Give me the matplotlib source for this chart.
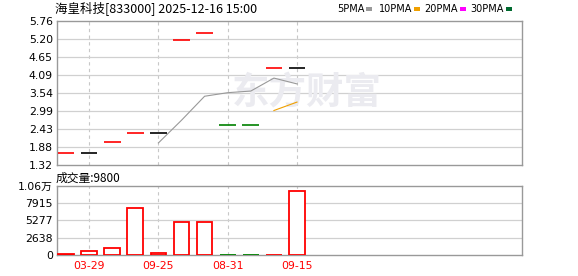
import numpy as np
import matplotlib
matplotlib.use("Agg")
import matplotlib.pyplot as plt
from matplotlib.patches import Rectangle

plt.rcParams['font.family'] = ['DejaVu Sans', 'Noto Sans CJK SC']

# ---- data ----
title = "海皇科技[833000] 2025-12-16 15:00"
closes = [1.69, 1.69, 2.02, 2.30, 2.30, 5.17, 5.39, 2.55, 2.55, 4.31, 4.31]
candle_colors = ['red', 'black', 'red', 'red', 'black', 'red', 'red', 'green', 'green', 'red', 'black']
volumes = [80, 600, 1070, 7140, 330, 5000, 5000, 40, 40, 40, 9800]
vol_colors = ['red', 'red', 'red', 'red', 'red', 'red', 'red', 'green', 'green', 'red', 'red']
ma5 = [np.nan, np.nan, np.nan, np.nan, 2.00, 2.70, 3.44, 3.55, 3.60, 4.00, 3.82]
ma10 = [np.nan] * 9 + [3.00, 3.26]
price_ticks = [1.32, 1.88, 2.43, 2.99, 3.54, 4.09, 4.65, 5.20, 5.76]
price_tick_labels = ["1.32", "1.88", "2.43", "2.99", "3.54", "4.09", "4.65", "5.20", "5.76"]
vol_ticks = [0, 2638, 5277, 7915, 10552]
vol_tick_labels = ["0", "2638", "5277", "7915", "1.06万"]
xtick_idx = [1, 4, 7, 10]
xtick_labels = ["03-29", "09-25", "08-31", "09-15"]
legend_names = ["5PMA", "10PMA", "20PMA", "30PMA"]
legend_colors = ["#999999", "#f0a000", "#ff00ff", "#006a2f"]
last_volume = 9800

cmap = {'red': '#ff0000', 'black': '#000000', 'green': '#008000'}

W, H = 578, 276
fig = plt.figure(figsize=(W / 100, H / 100), dpi=100)

def fx(px):
    return px / W

def fy(py):
    return 1 - py / H

L, R = 57, 522
ax = fig.add_axes([fx(L), fy(165), fx(R - L), fy(21) - fy(165)])
axv = fig.add_axes([fx(L), fy(255), fx(R - L), fy(186) - fy(255)])

xlim = (-0.39, 19.74)
grid_c = '#d0d0d0'
spine_c = '#999999'
for a in (ax, axv):
    a.set_xlim(*xlim)
    for s in a.spines.values():
        s.set_color(spine_c)
        s.set_linewidth(1.0)
    a.tick_params(length=0, pad=3, labelsize=7.8, colors='#000000')
    for xi in xtick_idx:
        a.axvline(xi, color='#c8c8c8', lw=0.8, ls=(0, (3, 3)), zorder=0)

# price panel
ax.set_ylim(price_ticks[0], price_ticks[-1])
ax.set_yticks(price_ticks)
ax.set_yticklabels(price_tick_labels)
ax.set_xticks([])
for t in price_ticks[1:-1]:
    ax.axhline(t, color=grid_c, lw=0.9, zorder=0)
x = np.arange(len(closes))
cw = 0.72
for i, (c, col) in enumerate(zip(closes, candle_colors)):
    ax.hlines(c, i - cw / 2, i + cw / 2, color=cmap[col], lw=1.2, zorder=3)
ax.plot(x, ma5, color='#999999', lw=0.8, zorder=2)
ax.plot(x, ma10, color='#f0a000', lw=0.8, zorder=2)

# watermark
ax.text(0.375, 0.50, "东方财富", transform=ax.transAxes, fontsize=27, fontweight='bold',
        color='#ebebf0', va='center', ha='left', zorder=1, family=['Noto Sans CJK SC'])

# volume panel
axv.set_ylim(0, vol_ticks[-1])
axv.set_yticks(vol_ticks)
axv.set_yticklabels(vol_tick_labels)
for lab in axv.get_yticklabels():
    lab.set_family(['DejaVu Sans', 'Noto Sans CJK SC'])
for t in vol_ticks[1:-1]:
    axv.axhline(t, color=grid_c, lw=0.9, zorder=0)
axv.bar(x, volumes, width=0.68, facecolor='white',
        edgecolor=[cmap[c] for c in vol_colors], linewidth=1.3, zorder=3)
axv.set_xticks(xtick_idx)
axv.set_xticklabels(xtick_labels, color='#ff0000', fontsize=7.8)
axv.tick_params(axis='x', pad=4)

# texts
fig.text(fx(55), fy(8), title, fontsize=9, va='center', ha='left',
         family=['Noto Sans CJK SC', 'DejaVu Sans'], color='#000000')
fig.text(fx(56), fy(178), "成交量:%d" % last_volume, fontsize=8.5, va='center', ha='left',
         family=['Noto Sans CJK SC', 'DejaVu Sans'], color='#000000')

lx = [337, 379, 424, 470]
sx = [366, 414, 460, 506]
for name, col, tx, qx in zip(legend_names, legend_colors, lx, sx):
    fig.text(fx(tx), fy(9), name, fontsize=7, va='center', ha='left', color='#000000')
    fig.patches.append(Rectangle((fx(qx), fy(10.5)), fx(6), 3.5 / H,
                                 transform=fig.transFigure, facecolor=col, edgecolor='none'))

fig.savefig("out.png", dpi=100)
